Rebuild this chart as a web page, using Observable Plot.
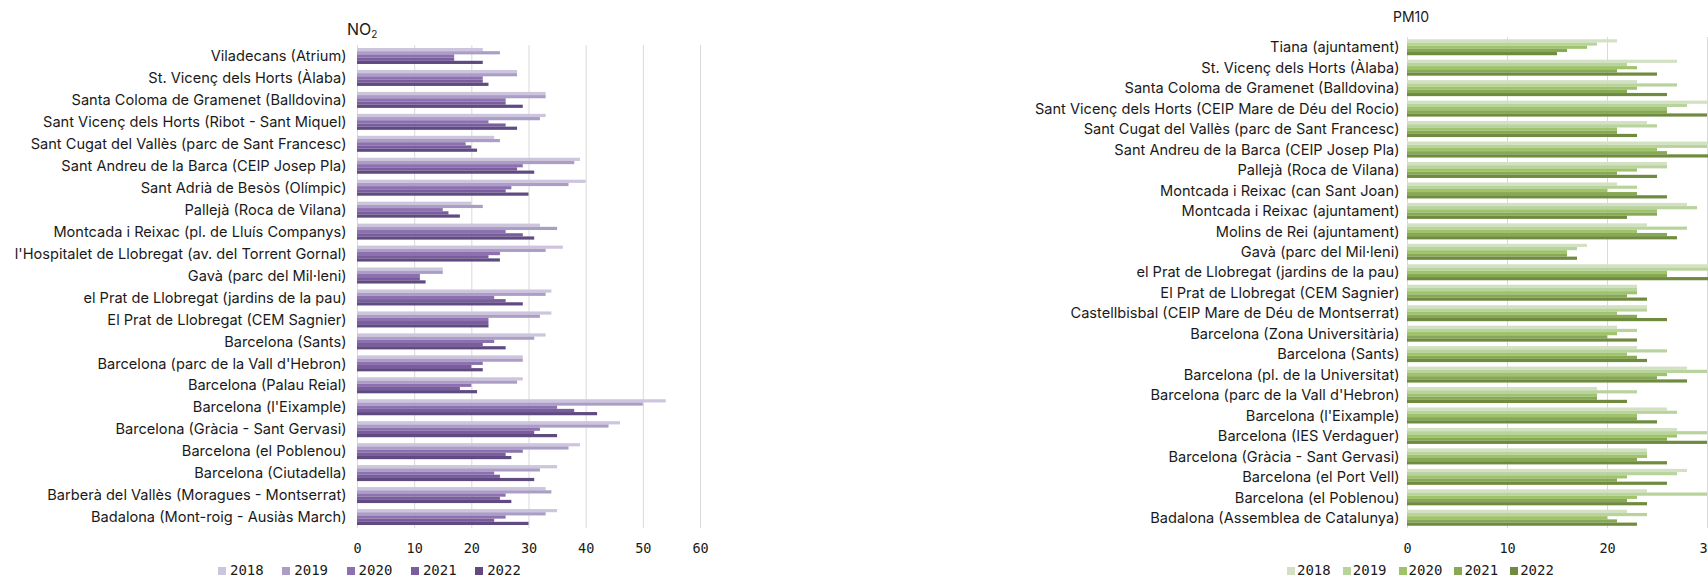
<!DOCTYPE html>
<html><head><meta charset="utf-8">
<script src="https://cdn.jsdelivr.net/npm/d3@7"></script>
<script src="https://cdn.jsdelivr.net/npm/@observablehq/plot@0.6"></script>
<style>
html,body{margin:0;padding:0;background:#fff;width:1708px;height:578px;overflow:hidden;}
#wrap{position:relative;width:1708px;height:578px;overflow:hidden;}
.panel{position:absolute;top:0;}
.panel svg{max-width:none !important;}
.title{position:absolute;font-family:Inter,sans-serif;color:#1a1a1a;white-space:nowrap;}
.legend{position:absolute;display:flex;font-family:"DejaVu Sans Mono",monospace;color:#1a1a1a;}
.legend .item{display:flex;align-items:center;}
.legend .sw{width:8px;height:8px;}
g[aria-label="x-axis tick label"]{font-family:"DejaVu Sans Mono",monospace;font-size:13.5px;}
</style></head><body><div id="wrap"></div>
<script>
const years = ["2018","2019","2020","2021","2022"];

const no2Stations = [
  "Viladecans (Atrium)",
  "St. Vicenç dels Horts (Àlaba)",
  "Santa Coloma de Gramenet (Balldovina)",
  "Sant Vicenç dels Horts (Ribot - Sant Miquel)",
  "Sant Cugat del Vallès (parc de Sant Francesc)",
  "Sant Andreu de la Barca (CEIP Josep Pla)",
  "Sant Adrià de Besòs (Olímpic)",
  "Pallejà (Roca de Vilana)",
  "Montcada i Reixac (pl. de Lluís Companys)",
  "l'Hospitalet de Llobregat (av. del Torrent Gornal)",
  "Gavà (parc del Mil·leni)",
  "el Prat de Llobregat (jardins de la pau)",
  "El Prat de Llobregat (CEM Sagnier)",
  "Barcelona (Sants)",
  "Barcelona (parc de la Vall d'Hebron)",
  "Barcelona (Palau Reial)",
  "Barcelona (l'Eixample)",
  "Barcelona (Gràcia - Sant Gervasi)",
  "Barcelona (el Poblenou)",
  "Barcelona (Ciutadella)",
  "Barberà del Vallès (Moragues - Montserrat)",
  "Badalona (Mont-roig - Ausiàs March)"
];
const no2_2018 = [22,28,33,33,24,39,40,20,32,36,15,34,34,33,29,29,54,46,39,35,33,35];
const no2_2019 = [25,28,33,32,25,38,37,22,35,33,15,33,32,31,29,28,50,44,37,32,34,33];
const no2_2020 = [17,22,26,23,19,29,27,15,26,25,11,24,23,24,22,20,35,32,29,24,26,26];
const no2_2021 = [17,22,26,26,20,28,26,16,29,23,11,26,23,22,20,18,38,31,26,25,25,24];
const no2_2022 = [22,23,29,28,21,31,30,18,31,25,12,29,23,26,22,21,42,35,27,31,27,30];

const pm10Stations = [
  "Tiana (ajuntament)",
  "St. Vicenç dels Horts (Àlaba)",
  "Santa Coloma de Gramenet (Balldovina)",
  "Sant Vicenç dels Horts (CEIP Mare de Déu del Rocio)",
  "Sant Cugat del Vallès (parc de Sant Francesc)",
  "Sant Andreu de la Barca (CEIP Josep Pla)",
  "Pallejà (Roca de Vilana)",
  "Montcada i Reixac (can Sant Joan)",
  "Montcada i Reixac (ajuntament)",
  "Molins de Rei (ajuntament)",
  "Gavà (parc del Mil·leni)",
  "el Prat de Llobregat (jardins de la pau)",
  "El Prat de Llobregat (CEM Sagnier)",
  "Castellbisbal (CEIP Mare de Déu de Montserrat)",
  "Barcelona (Zona Universitària)",
  "Barcelona (Sants)",
  "Barcelona (pl. de la Universitat)",
  "Barcelona (parc de la Vall d'Hebron)",
  "Barcelona (l'Eixample)",
  "Barcelona (IES Verdaguer)",
  "Barcelona (Gràcia - Sant Gervasi)",
  "Barcelona (el Port Vell)",
  "Barcelona (el Poblenou)",
  "Badalona (Assemblea de Catalunya)"
];
const pm10_2018 = [21,27,23,32,24,32,26,21,28,24,18,32,23,24,21,23,28,19,26,27,24,28,24,22];
const pm10_2019 = [19,22,27,28,25,30,26,23,29,28,17,31,23,24,23,26,30,23,27,30,24,27,30,24];
const pm10_2020 = [18,23,23,26,21,25,23,20,25,23,16,26,23,21,21,22,26,19,23,27,24,22,23,20];
const pm10_2021 = [16,21,22,26,21,26,21,23,25,26,16,26,22,23,20,23,25,19,23,26,23,21,22,21];
const pm10_2022 = [15,25,26,30,23,32,25,26,22,27,17,31,24,26,23,24,28,22,25,30,26,26,24,23];

const no2Ticks = [0,10,20,30,40,50,60];
const pm10Ticks = [0,10,20,30,40];

const no2Colors = ["#cdc5dd","#aa9ec6","#8c70af","#7a5d9d","#5f4a82"];
const pm10Colors = ["#d3e1c3","#b9d39d","#9fc36b","#87a956","#6f8b40"];

function build(stations, series) {
  return stations.map((s, i) => ({station: s, values: series.map(a => a[i])}));
}

function panel({stations, series, colors, ticks, domain, width, marginLeft, marginTop, plotBottom, groupH, tickPad}) {
  const data = build(stations, series);
  const bw = (plotBottom - marginTop) / stations.length;
  const barH = groupH / years.length;
  const off = (bw - groupH) / 2;
  const bars = years.map((y, k) => Plot.barX(data, {
    y: "station",
    x1: 0,
    x2: d => d.values[k],
    fill: colors[k],
    insetTop: off + k * barH,
    insetBottom: bw - off - (k + 1) * barH
  }));
  return Plot.plot({
    width: width,
    height: 560,
    marginLeft: marginLeft,
    marginRight: 0,
    marginTop: marginTop,
    marginBottom: 560 - plotBottom,
    style: {fontFamily: "Inter, sans-serif", fontSize: "14.6px", color: "#1a1a1a", background: "transparent", overflow: "visible"},
    x: {domain: domain, ticks: ticks, tickSize: 0, tickPadding: 15, tickFormat: d => String(d), label: null},
    y: {domain: stations, padding: 0, round: false, tickSize: 0, tickPadding: tickPad, label: null},
    marks: [
      Plot.ruleX(ticks, {stroke: "#d9d9d9", strokeWidth: 1}),
      ...bars
    ]
  });
}

const wrap = document.getElementById("wrap");

// NO2 panel
const p1 = document.createElement("div");
p1.className = "panel";
p1.style.left = "0px";
p1.style.width = "700px";
p1.appendChild(panel({
  stations: no2Stations,
  series: [no2_2018, no2_2019, no2_2020, no2_2021, no2_2022],
  colors: no2Colors, ticks: no2Ticks, domain: [0, 60],
  width: 357 + 343, marginLeft: 357, marginTop: 45, plotBottom: 528, groupH: 16, tickPad: 11
}));
wrap.appendChild(p1);

// PM10 panel (extends beyond the right edge of the window, as in the reference)
const p2 = document.createElement("div");
p2.className = "panel";
p2.style.left = "1020px";
p2.style.width = "787px";
p2.appendChild(panel({
  stations: pm10Stations,
  series: [pm10_2018, pm10_2019, pm10_2020, pm10_2021, pm10_2022],
  colors: pm10Colors, ticks: pm10Ticks, domain: [0, 40],
  width: 387 + 400, marginLeft: 387, marginTop: 37, plotBottom: 528, groupH: 16, tickPad: 8
}));
wrap.appendChild(p2);

// Titles
const t1 = document.createElement("div");
t1.className = "title";
t1.style.cssText += "left:347px;top:19px;font-size:16px;";
t1.innerHTML = "NO<sub style='font-size:10px;vertical-align:-3px'>2</sub>";
wrap.appendChild(t1);
const t2 = document.createElement("div");
t2.className = "title";
t2.style.cssText += "left:1393px;top:8px;font-size:14px;";
t2.textContent = "PM10";
wrap.appendChild(t2);

// Legends
function legend(left, colors, itemW, fontSize, gap) {
  const lg = document.createElement("div");
  lg.className = "legend";
  lg.style.left = left + "px";
  lg.style.top = "563px";
  lg.style.fontSize = fontSize + "px";
  lg.style.lineHeight = "15px";
  years.forEach((y, k) => {
    const it = document.createElement("div");
    it.className = "item";
    it.style.width = itemW + "px";
    const sw = document.createElement("span");
    sw.className = "sw";
    sw.style.background = colors[k];
    sw.style.marginRight = gap + "px";
    const tx = document.createElement("span");
    tx.textContent = y;
    it.appendChild(sw); it.appendChild(tx);
    lg.appendChild(it);
  });
  wrap.appendChild(lg);
}
legend(218, no2Colors, 64.3, 14, 4);
legend(1287, pm10Colors, 55.8, 14, 2);
</script></body></html>
